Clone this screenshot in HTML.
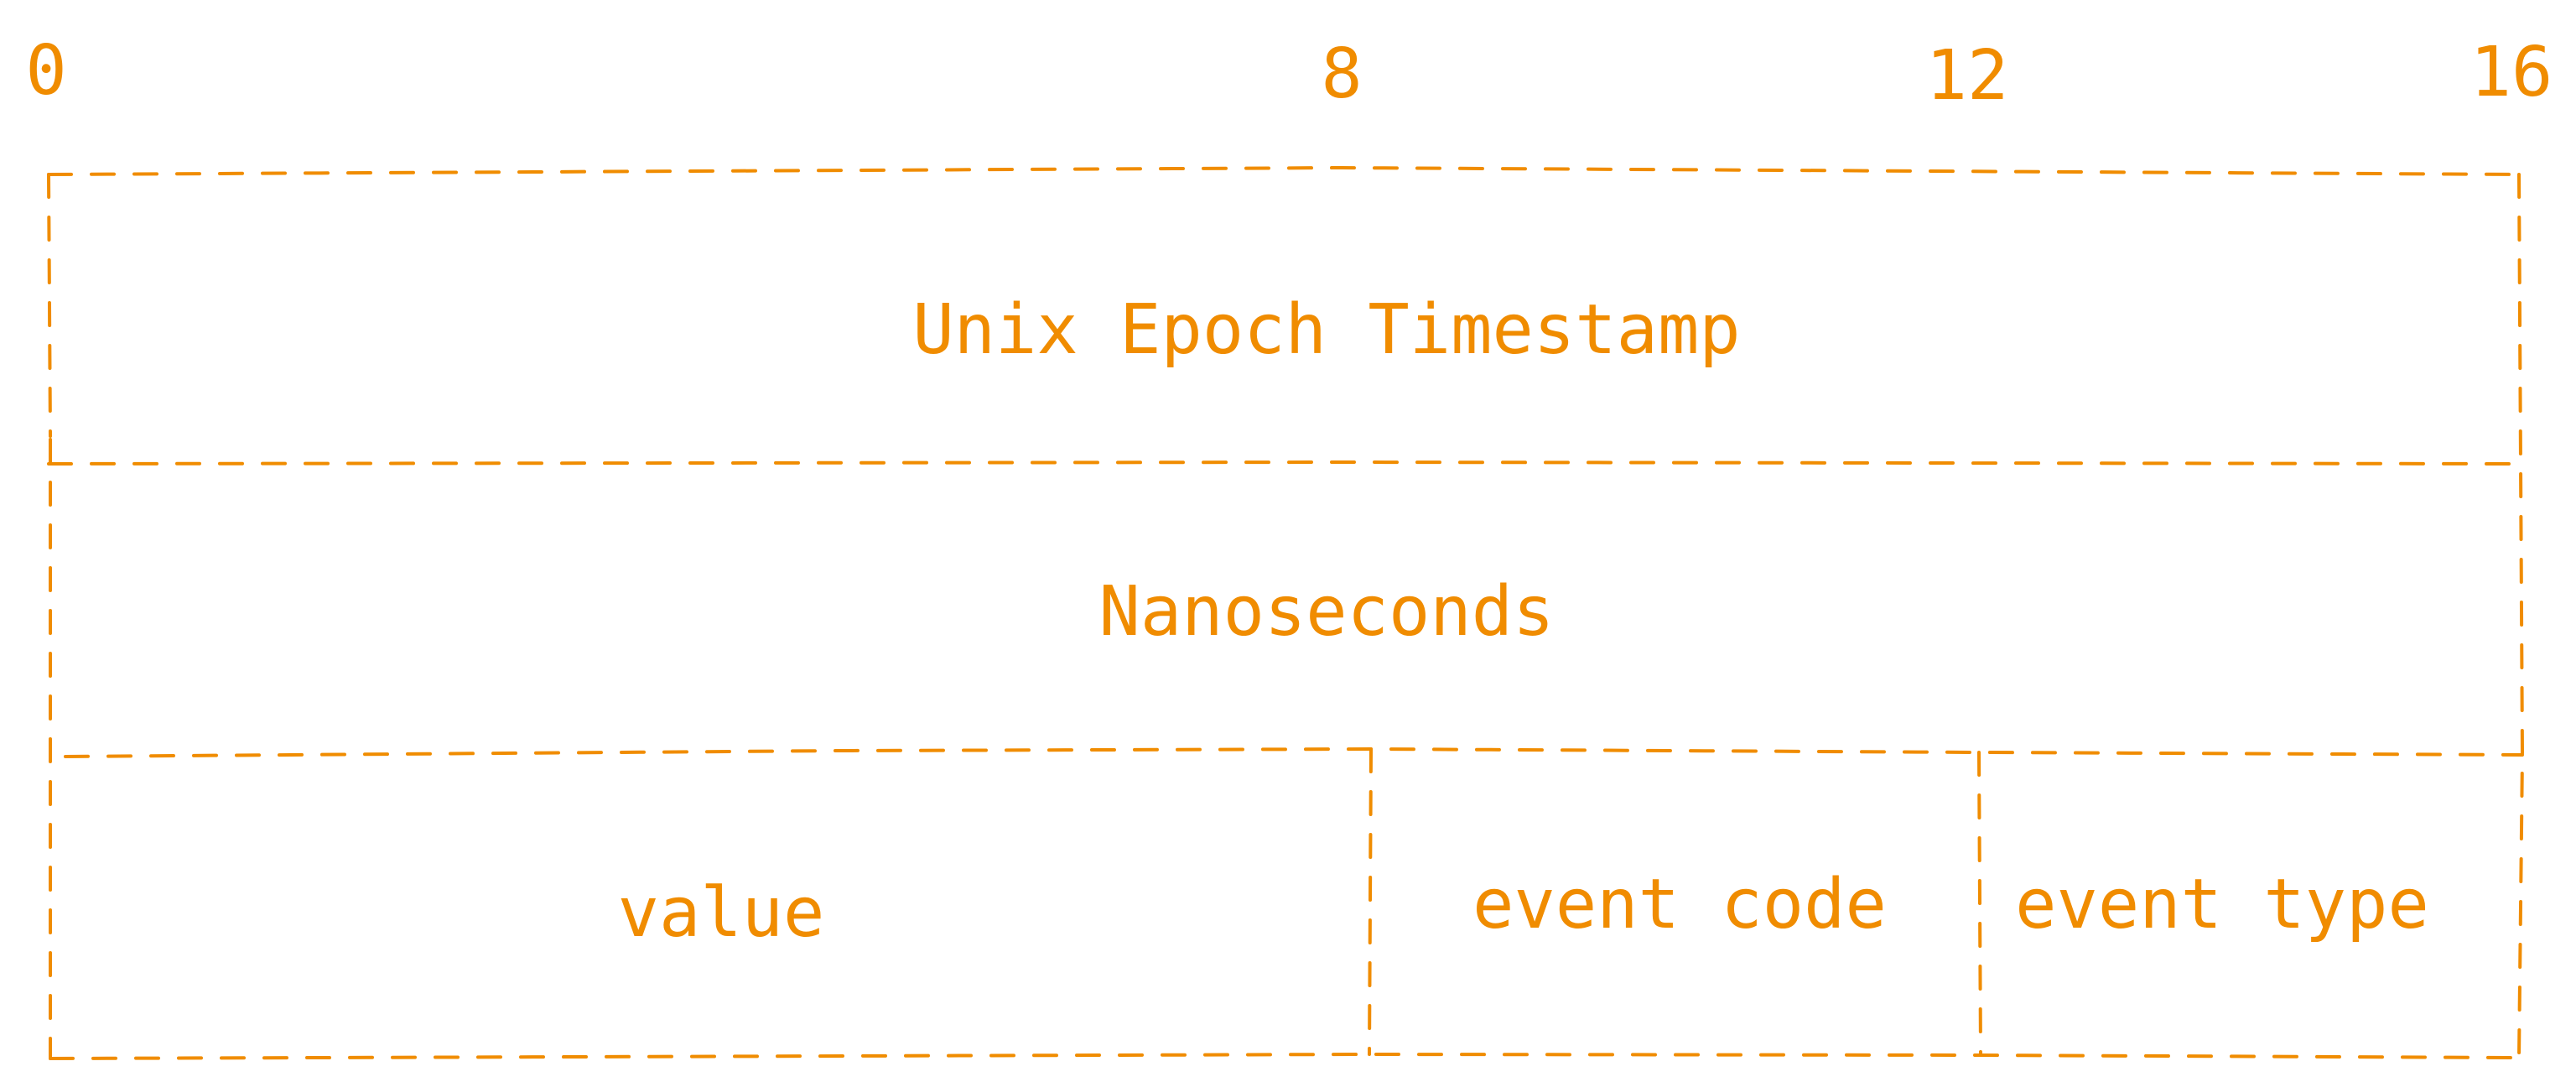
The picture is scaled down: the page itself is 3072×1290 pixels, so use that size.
<!DOCTYPE html>
<html><head><meta charset="utf-8"><style>
html,body{margin:0;padding:0;background:#fff;width:3072px;height:1290px;overflow:hidden}
text{font-family:"DejaVu Sans Mono","Liberation Mono",monospace;fill:#f08c00;font-size:82px;font-weight:500}
</style></head><body>
<svg width="3072" height="1290" xmlns="http://www.w3.org/2000/svg">
<g stroke="#f08c00" stroke-width="4" stroke-linecap="round" fill="none" stroke-dasharray="27 24">
<path d="M58 208 L1600 200 L3004 208"/>
<path d="M60 524 L60 1262"/>
<path d="M58 208 L60 520"/>
<path d="M3004 208 L3006 553 L3008 900 L3004 1261"/>
<path d="M58 553 L1600 551 L3006 553"/>
<path d="M78 902 L1000 895 L1635 893 L2360 897 L3008 900"/>
<path d="M60 1262 L1635 1257 L2360 1258 L3004 1261"/>
<path d="M1635 893 L1633 1257"/>
<path d="M2360 897 L2362 1258"/>
</g>
<g text-anchor="middle">
<text x="55" y="112">0</text>
<text x="1600" y="116">8</text>
<text x="2346" y="118">12</text>
<text x="2995" y="114">16</text>
<text x="1582" y="421">Unix Epoch Timestamp</text>
<text x="1582" y="757">Nanoseconds</text>
<text x="860" y="1116">value</text>
<text x="2003" y="1106">event code</text>
<text x="2650" y="1106">event type</text>
</g>
</svg>
</body></html>
